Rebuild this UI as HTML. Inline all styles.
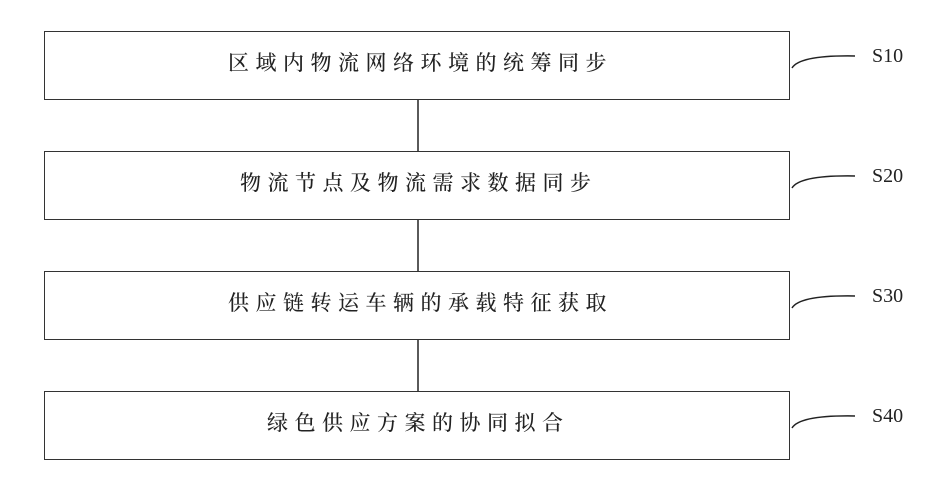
<!DOCTYPE html>
<html><head><meta charset="utf-8"><style>
html,body{margin:0;padding:0;background:#fff;}
body{width:936px;height:494px;position:relative;overflow:hidden;}
.b{position:absolute;left:44px;width:746px;height:69px;border:1.5px solid #333;box-sizing:border-box;}
.t{position:absolute;font-family:"Liberation Serif","Noto Serif CJK SC",serif;font-size:21px;letter-spacing:6.5px;color:#222;line-height:21px;white-space:nowrap;font-weight:500;}
.s{position:absolute;left:872px;font-family:"Liberation Serif",serif;font-size:20px;color:#222;line-height:20px;}
</style></head><body>
<div class="b" style="top:31px"></div>
<div class="b" style="top:151px"></div>
<div class="b" style="top:271px"></div>
<div class="b" style="top:391px"></div>
<svg width="936" height="494" style="position:absolute;left:0;top:0">
<g stroke="#222" stroke-width="1.5" fill="none">
<line x1="418" y1="100" x2="418" y2="151"/>
<line x1="418" y1="220" x2="418" y2="271"/>
<line x1="418" y1="340" x2="418" y2="391"/>
<path d="M792 68 Q800 55 855 56"/>
<path d="M792 188 Q800 175 855 176"/>
<path d="M792 308 Q800 295 855 296"/>
<path d="M792 428 Q800 415 855 416"/>
</g></svg>
<div class="t" style="left:228px;top:53px">区域内物流网络环境的统筹同步</div>
<div class="t" style="left:240px;top:173px">物流节点及物流需求数据同步</div>
<div class="t" style="left:228px;top:293px">供应链转运车辆的承载特征获取</div>
<div class="t" style="left:267px;top:413px">绿色供应方案的协同拟合</div>
<div class="s" style="top:46px">S10</div>
<div class="s" style="top:166px">S20</div>
<div class="s" style="top:286px">S30</div>
<div class="s" style="top:406px">S40</div>
</body></html>
